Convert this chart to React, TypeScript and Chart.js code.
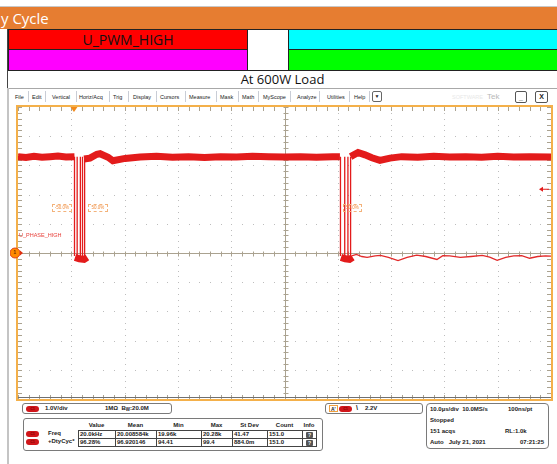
import React, { useEffect, useRef } from "react";
import { Chart, registerables } from "chart.js";

Chart.register(...registerables);

// ---------- data (time in µs, level in V) ----------
const X_MIN = -50;
const X_MAX = 50;
const X_DIV = 10; // 10.0 µs/div
const Y_MIN = -5;
const Y_MAX = 5;
const Y_DIV = 1; // 1.0 V/div
const TRIGGER_TIME = -39.5;
const TRIGGER_LEVEL = 2.2;

const HIGH_A_T = [-50, -48.5, -47, -45.5, -44, -42.5, -41, -39.4];
const HIGH_A_V = [3.3, 3.27, 3.31, 3.28, 3.3, 3.32, 3.29, 3.3];
const HIGH_B_T = [-37.6, -36.5, -35.2, -34.6, -33.1, -32.2, -29.9, -27.1, -24, -21, -18, -15, -12, -9, -6, -3, 0, 3, 6, 9, 10.4];
const HIGH_B_V = [3.22, 3.25, 3.38, 3.4, 3.28, 3.16, 3.24, 3.29, 3.31, 3.28, 3.3, 3.27, 3.3, 3.29, 3.31, 3.3, 3.29, 3.3, 3.28, 3.3, 3.3];
const HIGH_C_T = [12.4, 13.8, 15.1, 16.4, 17.9, 19.8, 22, 25, 28, 31, 34, 37, 40, 43, 46, 50];
const HIGH_C_V = [3.3, 3.44, 3.36, 3.26, 3.17, 3.25, 3.3, 3.28, 3.31, 3.29, 3.3, 3.28, 3.31, 3.29, 3.3, 3.29];

const FALL_T = [-39.4, 10.5];
const RISE_T = [-38.9, -38.3, -37.9, -37.5, 11.3, 11.9, 12.4];
const EDGE_HIGH_V = 3.3;
const EDGE_LOW_V = -0.1;

const LOW_A_T = [-39.3, -38.5, -37.6, -37.0];
const LOW_A_V = [-0.15, -0.2, -0.22, -0.15];
const LOW_B_T = [10.6, 11.4, 12.2, 12.8];
const LOW_B_V = [-0.15, -0.2, -0.22, -0.15];

const RIPPLE_T = [12.6, 13.5, 14.5, 15.5, 17, 18, 19.5, 21.3, 23, 24.8, 26.5, 28.6, 29.7, 31, 33, 35, 37.1, 38.5, 39.9, 41.5, 43, 44.5, 46, 47.5, 49, 50];
const RIPPLE_V = [-0.1, -0.05, -0.12, -0.15, -0.1, -0.08, -0.15, -0.26, -0.15, -0.07, -0.12, -0.22, -0.09, -0.1, -0.15, -0.12, -0.08, -0.14, -0.25, -0.15, -0.1, -0.09, -0.18, -0.12, -0.1, -0.11];

const MENU_ITEMS = ["File", "Edit", "Vertical", "Horiz/Acq", "Trig", "Display", "Cursors", "Measure", "Mask", "Math", "MyScope", "Analyze", "Utilities", "Help"];
const MENU_X = [15, 32, 52, 79, 113, 133, 160, 189, 220, 242, 263, 297, 327, 354];
const MENU_SEP_X = [28, 45, 76, 109, 128, 156, 185, 216, 238, 258, 290, 319, 349, 369];

const MEAS_HEADERS = ["Value", "Mean", "Min", "Max", "St Dev", "Count", "Info"];
const MEAS_ROW_LABELS = ["Freq", "+DtyCyc*"];
const MEAS_FREQ = ["20.0kHz", "20.008584k", "19.96k", "20.28k", "41.47", "151.0"];
const MEAS_DUTY = ["96.28%", "96.920146", "94.41", "99.4", "884.0m", "151.0"];
const MEAS_CELL_X = [78, 115, 156, 201, 232, 267, 302, 316];

const zip = (t: number[], v: number[]) => t.map((x, i) => ({ x, y: v[i] }));

const TRACE = "#e31b1b";

const graticule = {
  id: "graticule",
  beforeDatasetsDraw(chart: any) {
    const { ctx, chartArea: a, scales } = chart;
    const x = scales.x;
    const y = scales.y;
    ctx.save();
    // dotted grid
    ctx.fillStyle = "#bdbdbd";
    for (let v = X_MIN + X_DIV; v < X_MAX - 1e-9; v += X_DIV) {
      const px = Math.round(x.getPixelForValue(v));
      for (let w = Y_MIN; w <= Y_MAX + 1e-9; w += Y_DIV / 5) {
        ctx.fillRect(px, Math.round(y.getPixelForValue(w)), 1, 1);
      }
    }
    for (let w = Y_MIN + Y_DIV; w < Y_MAX - 1e-9; w += Y_DIV) {
      const py = Math.round(y.getPixelForValue(w));
      for (let v = X_MIN; v <= X_MAX + 1e-9; v += X_DIV / 5) {
        ctx.fillRect(Math.round(x.getPixelForValue(v)), py, 1, 1);
      }
    }
    // center cross
    const cx = Math.round(x.getPixelForValue(0)) + 0.5;
    const cy = Math.round(y.getPixelForValue(0)) + 0.5;
    ctx.strokeStyle = "#aaa290";
    ctx.lineWidth = 1;
    ctx.beginPath();
    ctx.moveTo(cx, a.top);
    ctx.lineTo(cx, a.bottom);
    ctx.moveTo(a.left, cy);
    ctx.lineTo(a.right, cy);
    for (let w = Y_MIN; w <= Y_MAX + 1e-9; w += Y_DIV / 5) {
      const py = Math.round(y.getPixelForValue(w)) + 0.5;
      ctx.moveTo(cx - 2, py);
      ctx.lineTo(cx + 3, py);
      ctx.moveTo(a.left, py);
      ctx.lineTo(a.left + 4, py);
      ctx.moveTo(a.right, py);
      ctx.lineTo(a.right - 4, py);
    }
    for (let v = X_MIN; v <= X_MAX + 1e-9; v += X_DIV / 5) {
      const px = Math.round(x.getPixelForValue(v)) + 0.5;
      ctx.moveTo(px, cy - 2);
      ctx.lineTo(px, cy + 3);
      ctx.moveTo(px, a.top);
      ctx.lineTo(px, a.top + 4);
      ctx.moveTo(px, a.bottom);
      ctx.lineTo(px, a.bottom - 4);
    }
    ctx.stroke();
    // bottom gray line
    ctx.strokeStyle = "#707070";
    ctx.beginPath();
    ctx.moveTo(a.left, a.bottom - 1.5);
    ctx.lineTo(a.right, a.bottom - 1.5);
    ctx.stroke();
    ctx.restore();
  },
  afterDatasetsDraw(chart: any) {
    const { ctx, chartArea: a, scales } = chart;
    const x = scales.x;
    const y = scales.y;
    ctx.save();
    // orange frame
    ctx.strokeStyle = "#f4b04a";
    ctx.lineWidth = 2;
    ctx.strokeRect(a.left - 1, a.top - 1, a.right - a.left + 2, a.bottom - a.top + 2);
    // trigger position marker
    const tx = x.getPixelForValue(TRIGGER_TIME);
    ctx.fillStyle = "#f28a1c";
    ctx.beginPath();
    ctx.moveTo(tx - 3.5, a.top);
    ctx.lineTo(tx + 3.5, a.top);
    ctx.lineTo(tx, a.top + 5);
    ctx.closePath();
    ctx.fill();
    // ground marker
    const gy = y.getPixelForValue(0);
    ctx.beginPath();
    ctx.arc(a.left - 3, gy, 5, 0, Math.PI * 2);
    ctx.fillStyle = "#ff8a00";
    ctx.fill();
    ctx.strokeStyle = "#e0401a";
    ctx.lineWidth = 1;
    ctx.stroke();
    ctx.fillStyle = "#e03010";
    ctx.beginPath();
    ctx.moveTo(a.left + 2, gy - 2.5);
    ctx.lineTo(a.left + 5, gy);
    ctx.lineTo(a.left + 2, gy + 2.5);
    ctx.closePath();
    ctx.fill();
    // trigger level arrow
    const ly = y.getPixelForValue(TRIGGER_LEVEL);
    ctx.strokeStyle = TRACE;
    ctx.fillStyle = TRACE;
    ctx.lineWidth = 1;
    ctx.beginPath();
    ctx.moveTo(a.right - 2, ly + 0.5);
    ctx.lineTo(a.right - 9, ly + 0.5);
    ctx.stroke();
    ctx.beginPath();
    ctx.moveTo(a.right - 12, ly + 0.5);
    ctx.lineTo(a.right - 8, ly - 2);
    ctx.lineTo(a.right - 8, ly + 3);
    ctx.closePath();
    ctx.fill();
    ctx.restore();
  },
};

function ScopeChart() {
  const ref = useRef<HTMLCanvasElement | null>(null);
  useEffect(() => {
    if (!ref.current) return;
    const edges: { x: number; y: number | null }[] = [];
    FALL_T.concat(RISE_T).forEach((t) => {
      edges.push({ x: t, y: EDGE_HIGH_V }, { x: t, y: EDGE_LOW_V }, { x: t, y: null });
    });
    const gap = (t: number) => ({ x: t, y: null as number | null });
    const high = [
      ...zip(HIGH_A_T, HIGH_A_V),
      gap(-38.5),
      ...zip(HIGH_B_T, HIGH_B_V),
      gap(11.4),
      ...zip(HIGH_C_T, HIGH_C_V),
    ];
    const low = [...zip(LOW_A_T, LOW_A_V), gap(0), ...zip(LOW_B_T, LOW_B_V)];
    const base = { pointRadius: 0, tension: 0, spanGaps: false, fill: false };
    const chart = new Chart(ref.current, {
      type: "line",
      data: {
        datasets: [
          { ...base, label: "ripple", data: zip(RIPPLE_T, RIPPLE_V), borderColor: "#e22a2a", borderWidth: 1.3 },
          { ...base, label: "low", data: low, borderColor: TRACE, borderWidth: 7 },
          { ...base, label: "edges", data: edges, borderColor: TRACE, borderWidth: 1.3 },
          { ...base, label: "U_PHASE_HIGH", data: high, borderColor: TRACE, borderWidth: 7 },
        ] as any,
      },
      options: {
        animation: false,
        responsive: false,
        devicePixelRatio: 1,
        layout: { padding: { left: 8, right: 6, top: 7, bottom: 3 } },
        scales: {
          x: { type: "linear", min: X_MIN, max: X_MAX, display: false },
          y: { type: "linear", min: Y_MIN, max: Y_MAX, display: false },
        },
        plugins: { legend: { display: false }, tooltip: { enabled: false } },
      },
      plugins: [graticule],
    });
    return () => chart.destroy();
  }, []);
  return (
    <canvas
      ref={ref}
      width={547}
      height={302}
      style={{ position: "absolute", left: 10, top: 100, width: 547, height: 302, display: "block" }}
    />
  );
}

const abs = (l: number, t: number, extra: React.CSSProperties = {}): React.CSSProperties => ({
  position: "absolute",
  left: l,
  top: t,
  ...extra,
});

const small: React.CSSProperties = {
  fontFamily: "'Liberation Sans', Arial, sans-serif",
  fontSize: 6,
  lineHeight: "7px",
  color: "#222",
  whiteSpace: "nowrap",
};
const smallBold: React.CSSProperties = { ...small, fontWeight: "bold" };

function Pill({ l, t }: { l: number; t: number }) {
  return (
    <div
      style={abs(l, t, {
        width: 13,
        height: 6,
        borderRadius: 3,
        background: "#d0161a",
        color: "#7a0000",
        fontSize: 3.5,
        lineHeight: "6px",
        textAlign: "center",
        fontFamily: "'Liberation Sans', sans-serif",
        fontWeight: "bold",
      })}
    >
      C1
    </div>
  );
}

export default function App() {
  const header = "'Open Sans', 'Noto Sans', sans-serif";
  return (
    <div
      style={{
        position: "fixed",
        left: 0,
        top: 0,
        width: 557,
        height: 464,
        overflow: "hidden",
        background: "#fff",
      }}
    >
      {/* top band */}
      <div style={abs(0, 6, { width: 557, height: 1, background: "#c8c8c8" })} />
      <div style={abs(0, 7, { width: 557, height: 22, background: "#e67d31" })} />
      <div style={abs(1, 8, { color: "#fff", fontFamily: header, fontSize: 15, lineHeight: "20px" })}>y Cycle</div>

      {/* colored table */}
      <div style={abs(8, 29, { width: 240, height: 21, background: "#ff0000", boxSizing: "border-box", border: "1px solid #222" })} />
      <div style={abs(8, 49, { width: 240, height: 22, background: "#ff00ff", boxSizing: "border-box", border: "1px solid #222" })} />
      <div style={abs(8, 29, { width: 240, height: 21, textAlign: "center", fontFamily: header, fontSize: 14, lineHeight: "21px", color: "#111" })}>U_PWM_HIGH</div>
      <div style={abs(247, 29, { width: 42, height: 42, boxSizing: "border-box", border: "1px solid #222", background: "#fff" })} />
      <div style={abs(288, 29, { width: 272, height: 21, background: "#00ffff", boxSizing: "border-box", border: "1px solid #222" })} />
      <div style={abs(288, 49, { width: 272, height: 22, background: "#00ff00", boxSizing: "border-box", border: "1px solid #222" })} />
      <div style={abs(7, 29, { width: 1, height: 59, background: "#444" })} />
      <div style={abs(8, 71, { width: 549, height: 17, textAlign: "center", fontFamily: header, fontSize: 13, lineHeight: "17px", color: "#111" })}>At 600W Load</div>
      <div style={abs(8, 88, { width: 549, height: 1, background: "#a8a8a8" })} />
      <div style={abs(7, 88, { width: 2, height: 376, background: "#c4c4c4" })} />

      {/* menu bar */}
      {MENU_ITEMS.map((m, i) => (
        <div key={m} style={abs(MENU_X[i], 94, { ...small, fontSize: 5.5 })}>{m}</div>
      ))}
      {MENU_SEP_X.map((x, i) => (
        <div key={i} style={abs(x, 91, { width: 1, height: 11, background: "#c9cdd6" })} />
      ))}
      <div style={abs(372, 91, { width: 10, height: 11, boxSizing: "border-box", border: "1px solid #666", borderRadius: 2, ...small, fontSize: 5, textAlign: "center", lineHeight: "9px" })}>▼</div>
      <div style={abs(452, 94, { ...small, color: "#e8e8e8", fontSize: 5.5 })}>SOFTWARE</div>
      <div style={abs(487, 92, { ...small, color: "#b8b8b8", fontSize: 8, lineHeight: "10px" })}>Tek</div>
      <div style={abs(515, 91, { width: 12, height: 12, boxSizing: "border-box", border: "1px solid #555", borderRadius: 2, ...smallBold, fontSize: 7, textAlign: "center", lineHeight: "12px" })}>_</div>
      <div style={abs(535, 91, { width: 13, height: 12, boxSizing: "border-box", border: "1px solid #555", borderRadius: 2, ...smallBold, fontSize: 7, textAlign: "center", lineHeight: "10px" })}>X</div>

      <ScopeChart />

      {/* in-graticule annotations */}
      <div style={abs(52, 204, { width: 20, height: 8, boxSizing: "border-box", border: "1px dashed #f3b27a", ...small, fontSize: 4.5, lineHeight: "6px", color: "#f08a3a", textAlign: "center" })}>-50.0%</div>
      <div style={abs(88, 204, { width: 20, height: 8, boxSizing: "border-box", border: "1px dashed #f3b27a", ...small, fontSize: 4.5, lineHeight: "6px", color: "#f08a3a", textAlign: "center" })}>50.0%</div>
      <div style={abs(343, 204, { width: 19, height: 8, boxSizing: "border-box", border: "1px dashed #f3b27a", ...small, fontSize: 4.5, lineHeight: "6px", color: "#f08a3a", textAlign: "center" })}>50.0%</div>
      <div style={abs(19, 232, { ...small, fontSize: 5.5, color: "#e8403a" })}>U_PHASE_HIGH</div>
      <div style={abs(12, 249, { ...smallBold, fontSize: 5, color: "#6a2a00", width: 6, textAlign: "center" })}>1</div>

      {/* channel box */}
      <div style={abs(22, 403, { width: 150, height: 11, boxSizing: "border-box", border: "1px solid #7a7a7a", borderRadius: 3 })} />
      <Pill l={26} t={405.5} />
      <div style={abs(45, 405, smallBold)}>1.0V/div</div>
      <div style={abs(105, 405, smallBold)}>
        1MΩ&nbsp;&nbsp;B<span style={{ fontSize: 4.5, verticalAlign: "-1px" }}>W</span>:20.0M
      </div>

      {/* measurement box */}
      <div style={abs(23, 418, { width: 300, height: 33, boxSizing: "border-box", border: "1px solid #7a7a7a", borderRadius: 3 })} />
      {MEAS_HEADERS.map((h, i) => (
        <div key={h} style={abs(MEAS_CELL_X[i], 422, { ...smallBold, width: MEAS_CELL_X[i + 1] - MEAS_CELL_X[i], textAlign: "center" })}>{h}</div>
      ))}
      {[MEAS_FREQ, MEAS_DUTY].map((row, r) => (
        <React.Fragment key={r}>
          <Pill l={26} t={431 + r * 8} />
          <div style={abs(48, 430 + r * 8, smallBold)}>{MEAS_ROW_LABELS[r]}</div>
          {row.map((c, i) => (
            <div
              key={i}
              style={abs(MEAS_CELL_X[i], 430 + r * 8, {
                ...smallBold,
                width: MEAS_CELL_X[i + 1] - MEAS_CELL_X[i] + 1,
                height: 9,
                boxSizing: "border-box",
                border: "1px solid #444",
                paddingLeft: 1,
                lineHeight: "7px",
              })}
            >
              {c}
            </div>
          ))}
          <div
            style={abs(302, 430 + r * 8, {
              width: 15,
              height: 9,
              boxSizing: "border-box",
              border: "1px solid #444",
            })}
          >
            <div style={abs(3, 0.5, { width: 7, height: 6, background: "#555", borderRadius: 1, ...smallBold, fontSize: 5, lineHeight: "6px", color: "#fff", textAlign: "center" })}>?</div>
          </div>
        </React.Fragment>
      ))}

      {/* trigger box */}
      <div style={abs(325, 403, { width: 98, height: 11, boxSizing: "border-box", border: "1px solid #7a7a7a", borderRadius: 3 })} />
      <div style={abs(329, 405, { ...smallBold, fontSize: 5, height: 7, lineHeight: "7px", padding: "0 1px", border: "1px solid #f0a040", boxSizing: "border-box" })}>A'</div>
      <Pill l={339} t={405.5} />
      <div style={abs(356, 404, { ...smallBold, fontSize: 7 })}>\</div>
      <div style={abs(365, 405, smallBold)}>2.2V</div>

      {/* horizontal box */}
      <div style={abs(426, 403, { width: 123, height: 46, boxSizing: "border-box", border: "1px solid #7a7a7a", borderRadius: 4 })} />
      <div style={abs(430, 406, smallBold)}>10.0µs/div&nbsp;&nbsp;10.0MS/s</div>
      <div style={abs(508, 406, smallBold)}>100ns/pt</div>
      <div style={abs(430, 417, smallBold)}>Stopped</div>
      <div style={abs(430, 428, smallBold)}>151 acqs</div>
      <div style={abs(505, 428, smallBold)}>RL:1.0k</div>
      <div style={abs(430, 439, smallBold)}>Auto&nbsp;&nbsp;&nbsp;July 21, 2021</div>
      <div style={abs(520, 439, smallBold)}>07:21:25</div>
    </div>
  );
}
